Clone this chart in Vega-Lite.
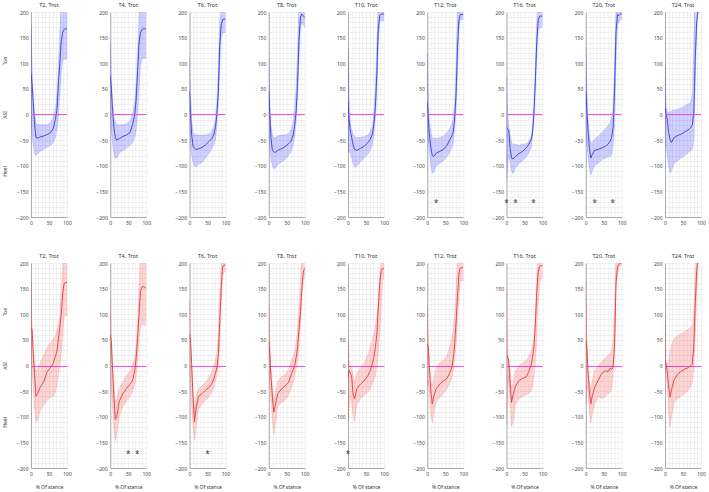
{"$schema":"https://vega.github.io/schema/vega-lite/v6.json","padding":{"left":2,"top":2,"right":2,"bottom":2},"datasets":{"stars":[{"g":"A","t":"T12","x":25,"y":-170},{"g":"A","t":"T16","x":0,"y":-170},{"g":"A","t":"T16","x":25,"y":-170},{"g":"A","t":"T16","x":75,"y":-170},{"g":"A","t":"T20","x":25,"y":-170},{"g":"A","t":"T20","x":75,"y":-170},{"g":"B","t":"T4","x":50,"y":-170},{"g":"B","t":"T4","x":75,"y":-170},{"g":"B","t":"T6","x":50,"y":-170},{"g":"B","t":"T10","x":0,"y":-170}],
"curves":[
{"g":"A","t":"T2","x":0,"m":80,"lo":-10,"hi":175},{"g":"A","t":"T2","x":3,"m":60,"lo":-40,"hi":100},{"g":"A","t":"T2","x":6,"m":25,"lo":-60,"hi":40},{"g":"A","t":"T2","x":10,"m":-20,"lo":-75,"hi":0},{"g":"A","t":"T2","x":14,"m":-45,"lo":-80,"hi":-18},{"g":"A","t":"T2","x":18,"m":-46,"lo":-77,"hi":-19},{"g":"A","t":"T2","x":25,"m":-44,"lo":-72,"hi":-20},{"g":"A","t":"T2","x":35,"m":-42,"lo":-68,"hi":-20},{"g":"A","t":"T2","x":45,"m":-39,"lo":-64,"hi":-20},{"g":"A","t":"T2","x":55,"m":-35,"lo":-60,"hi":-15},{"g":"A","t":"T2","x":62,"m":-27,"lo":-55,"hi":-5},{"g":"A","t":"T2","x":68,"m":-8,"lo":-45,"hi":12},{"g":"A","t":"T2","x":72,"m":8,"lo":-30,"hi":40},{"g":"A","t":"T2","x":76,"m":58,"lo":-5,"hi":95},{"g":"A","t":"T2","x":80,"m":100,"lo":40,"hi":165},{"g":"A","t":"T2","x":84,"m":143,"lo":80,"hi":215},{"g":"A","t":"T2","x":88,"m":160,"lo":105,"hi":240},{"g":"A","t":"T2","x":92,"m":166,"lo":108,"hi":240},{"g":"A","t":"T2","x":96,"m":167,"lo":108,"hi":240},{"g":"A","t":"T2","x":100,"m":167,"lo":108,"hi":240},
{"g":"A","t":"T4","x":0,"m":75,"lo":0,"hi":140},{"g":"A","t":"T4","x":3,"m":50,"lo":-30,"hi":80},{"g":"A","t":"T4","x":6,"m":15,"lo":-55,"hi":30},{"g":"A","t":"T4","x":10,"m":-25,"lo":-75,"hi":-5},{"g":"A","t":"T4","x":14,"m":-45,"lo":-85,"hi":-15},{"g":"A","t":"T4","x":18,"m":-50,"lo":-85,"hi":-20},{"g":"A","t":"T4","x":25,"m":-47,"lo":-75,"hi":-20},{"g":"A","t":"T4","x":35,"m":-43,"lo":-70,"hi":-20},{"g":"A","t":"T4","x":45,"m":-40,"lo":-66,"hi":-18},{"g":"A","t":"T4","x":55,"m":-35,"lo":-60,"hi":-12},{"g":"A","t":"T4","x":62,"m":-20,"lo":-55,"hi":0},{"g":"A","t":"T4","x":68,"m":0,"lo":-45,"hi":25},{"g":"A","t":"T4","x":72,"m":30,"lo":-30,"hi":60},{"g":"A","t":"T4","x":76,"m":85,"lo":0,"hi":120},{"g":"A","t":"T4","x":80,"m":140,"lo":50,"hi":200},{"g":"A","t":"T4","x":84,"m":160,"lo":95,"hi":250},{"g":"A","t":"T4","x":88,"m":166,"lo":110,"hi":250},{"g":"A","t":"T4","x":92,"m":167,"lo":110,"hi":250},{"g":"A","t":"T4","x":96,"m":167,"lo":110,"hi":250},{"g":"A","t":"T4","x":100,"m":167,"lo":110,"hi":250},
{"g":"A","t":"T6","x":0,"m":45,"lo":-20,"hi":110},{"g":"A","t":"T6","x":3,"m":0,"lo":-55,"hi":40},{"g":"A","t":"T6","x":6,"m":-40,"lo":-80,"hi":-10},{"g":"A","t":"T6","x":10,"m":-62,"lo":-95,"hi":-35},{"g":"A","t":"T6","x":14,"m":-66,"lo":-100,"hi":-38},{"g":"A","t":"T6","x":18,"m":-68,"lo":-102,"hi":-40},{"g":"A","t":"T6","x":25,"m":-67,"lo":-97,"hi":-40},{"g":"A","t":"T6","x":35,"m":-64,"lo":-93,"hi":-40},{"g":"A","t":"T6","x":45,"m":-59,"lo":-85,"hi":-40},{"g":"A","t":"T6","x":55,"m":-52,"lo":-75,"hi":-38},{"g":"A","t":"T6","x":62,"m":-47,"lo":-67,"hi":-33},{"g":"A","t":"T6","x":68,"m":-38,"lo":-58,"hi":-22},{"g":"A","t":"T6","x":72,"m":-26,"lo":-50,"hi":-8},{"g":"A","t":"T6","x":76,"m":0,"lo":-25,"hi":25},{"g":"A","t":"T6","x":80,"m":45,"lo":20,"hi":90},{"g":"A","t":"T6","x":84,"m":135,"lo":90,"hi":180},{"g":"A","t":"T6","x":88,"m":175,"lo":150,"hi":215},{"g":"A","t":"T6","x":92,"m":185,"lo":160,"hi":230},{"g":"A","t":"T6","x":96,"m":186,"lo":160,"hi":230},{"g":"A","t":"T6","x":100,"m":186,"lo":160,"hi":230},
{"g":"A","t":"T8","x":0,"m":45,"lo":-20,"hi":110},{"g":"A","t":"T8","x":3,"m":0,"lo":-60,"hi":30},{"g":"A","t":"T8","x":6,"m":-45,"lo":-90,"hi":-20},{"g":"A","t":"T8","x":10,"m":-70,"lo":-100,"hi":-40},{"g":"A","t":"T8","x":14,"m":-73,"lo":-105,"hi":-45},{"g":"A","t":"T8","x":18,"m":-74,"lo":-105,"hi":-45},{"g":"A","t":"T8","x":25,"m":-70,"lo":-98,"hi":-42},{"g":"A","t":"T8","x":35,"m":-67,"lo":-93,"hi":-40},{"g":"A","t":"T8","x":45,"m":-63,"lo":-88,"hi":-40},{"g":"A","t":"T8","x":55,"m":-57,"lo":-80,"hi":-37},{"g":"A","t":"T8","x":62,"m":-52,"lo":-72,"hi":-30},{"g":"A","t":"T8","x":68,"m":-40,"lo":-60,"hi":-15},{"g":"A","t":"T8","x":72,"m":-20,"lo":-42,"hi":10},{"g":"A","t":"T8","x":76,"m":5,"lo":-15,"hi":50},{"g":"A","t":"T8","x":80,"m":60,"lo":40,"hi":130},{"g":"A","t":"T8","x":84,"m":145,"lo":110,"hi":210},{"g":"A","t":"T8","x":88,"m":190,"lo":170,"hi":230},{"g":"A","t":"T8","x":92,"m":196,"lo":180,"hi":230},{"g":"A","t":"T8","x":96,"m":193,"lo":175,"hi":230},{"g":"A","t":"T8","x":100,"m":189,"lo":170,"hi":230},
{"g":"A","t":"T10","x":0,"m":25,"lo":-75,"hi":125},{"g":"A","t":"T10","x":3,"m":-10,"lo":-70,"hi":40},{"g":"A","t":"T10","x":6,"m":-30,"lo":-75,"hi":-10},{"g":"A","t":"T10","x":10,"m":-45,"lo":-85,"hi":-30},{"g":"A","t":"T10","x":14,"m":-58,"lo":-95,"hi":-38},{"g":"A","t":"T10","x":18,"m":-68,"lo":-103,"hi":-43},{"g":"A","t":"T10","x":25,"m":-70,"lo":-100,"hi":-45},{"g":"A","t":"T10","x":35,"m":-66,"lo":-92,"hi":-45},{"g":"A","t":"T10","x":45,"m":-62,"lo":-85,"hi":-43},{"g":"A","t":"T10","x":55,"m":-55,"lo":-78,"hi":-40},{"g":"A","t":"T10","x":62,"m":-48,"lo":-70,"hi":-33},{"g":"A","t":"T10","x":68,"m":-38,"lo":-58,"hi":-20},{"g":"A","t":"T10","x":72,"m":-18,"lo":-40,"hi":5},{"g":"A","t":"T10","x":76,"m":15,"lo":-10,"hi":50},{"g":"A","t":"T10","x":80,"m":80,"lo":40,"hi":140},{"g":"A","t":"T10","x":84,"m":165,"lo":130,"hi":210},{"g":"A","t":"T10","x":88,"m":193,"lo":180,"hi":230},{"g":"A","t":"T10","x":92,"m":196,"lo":183,"hi":230},{"g":"A","t":"T10","x":96,"m":196,"lo":183,"hi":230},{"g":"A","t":"T10","x":100,"m":196,"lo":183,"hi":230},
{"g":"A","t":"T12","x":0,"m":25,"lo":-40,"hi":120},{"g":"A","t":"T12","x":3,"m":-10,"lo":-55,"hi":40},{"g":"A","t":"T12","x":6,"m":-40,"lo":-75,"hi":-10},{"g":"A","t":"T12","x":10,"m":-65,"lo":-100,"hi":-35},{"g":"A","t":"T12","x":14,"m":-80,"lo":-115,"hi":-45},{"g":"A","t":"T12","x":18,"m":-82,"lo":-112,"hi":-47},{"g":"A","t":"T12","x":25,"m":-75,"lo":-100,"hi":-47},{"g":"A","t":"T12","x":35,"m":-72,"lo":-95,"hi":-45},{"g":"A","t":"T12","x":45,"m":-68,"lo":-90,"hi":-42},{"g":"A","t":"T12","x":55,"m":-60,"lo":-82,"hi":-35},{"g":"A","t":"T12","x":62,"m":-50,"lo":-75,"hi":-28},{"g":"A","t":"T12","x":68,"m":-42,"lo":-65,"hi":-18},{"g":"A","t":"T12","x":72,"m":-35,"lo":-55,"hi":-8},{"g":"A","t":"T12","x":76,"m":-10,"lo":-30,"hi":20},{"g":"A","t":"T12","x":80,"m":40,"lo":10,"hi":100},{"g":"A","t":"T12","x":84,"m":130,"lo":80,"hi":200},{"g":"A","t":"T12","x":88,"m":185,"lo":170,"hi":230},{"g":"A","t":"T12","x":92,"m":195,"lo":185,"hi":230},{"g":"A","t":"T12","x":96,"m":195,"lo":185,"hi":230},{"g":"A","t":"T12","x":100,"m":195,"lo":185,"hi":230},
{"g":"A","t":"T16","x":0,"m":-25,"lo":-125,"hi":75},{"g":"A","t":"T16","x":3,"m":-28,"lo":-100,"hi":0},{"g":"A","t":"T16","x":6,"m":-30,"lo":-80,"hi":-20},{"g":"A","t":"T16","x":10,"m":-65,"lo":-90,"hi":-40},{"g":"A","t":"T16","x":14,"m":-85,"lo":-110,"hi":-55},{"g":"A","t":"T16","x":18,"m":-87,"lo":-115,"hi":-58},{"g":"A","t":"T16","x":25,"m":-82,"lo":-105,"hi":-58},{"g":"A","t":"T16","x":35,"m":-76,"lo":-95,"hi":-60},{"g":"A","t":"T16","x":45,"m":-72,"lo":-90,"hi":-58},{"g":"A","t":"T16","x":55,"m":-65,"lo":-83,"hi":-57},{"g":"A","t":"T16","x":62,"m":-58,"lo":-75,"hi":-52},{"g":"A","t":"T16","x":68,"m":-50,"lo":-65,"hi":-45},{"g":"A","t":"T16","x":72,"m":-38,"lo":-45,"hi":-25},{"g":"A","t":"T16","x":76,"m":0,"lo":-15,"hi":15},{"g":"A","t":"T16","x":80,"m":65,"lo":40,"hi":90},{"g":"A","t":"T16","x":84,"m":140,"lo":110,"hi":180},{"g":"A","t":"T16","x":88,"m":185,"lo":165,"hi":215},{"g":"A","t":"T16","x":92,"m":192,"lo":170,"hi":230},{"g":"A","t":"T16","x":96,"m":192,"lo":170,"hi":230},{"g":"A","t":"T16","x":100,"m":192,"lo":170,"hi":230},
{"g":"A","t":"T20","x":0,"m":45,"lo":-40,"hi":130},{"g":"A","t":"T20","x":3,"m":10,"lo":-60,"hi":60},{"g":"A","t":"T20","x":6,"m":-30,"lo":-80,"hi":0},{"g":"A","t":"T20","x":10,"m":-65,"lo":-105,"hi":-40},{"g":"A","t":"T20","x":14,"m":-85,"lo":-118,"hi":-55},{"g":"A","t":"T20","x":18,"m":-78,"lo":-110,"hi":-55},{"g":"A","t":"T20","x":25,"m":-70,"lo":-100,"hi":-48},{"g":"A","t":"T20","x":35,"m":-68,"lo":-95,"hi":-42},{"g":"A","t":"T20","x":45,"m":-65,"lo":-88,"hi":-35},{"g":"A","t":"T20","x":55,"m":-62,"lo":-85,"hi":-28},{"g":"A","t":"T20","x":62,"m":-58,"lo":-83,"hi":-22},{"g":"A","t":"T20","x":68,"m":-52,"lo":-82,"hi":-15},{"g":"A","t":"T20","x":72,"m":-45,"lo":-78,"hi":-5},{"g":"A","t":"T20","x":76,"m":-25,"lo":-60,"hi":10},{"g":"A","t":"T20","x":80,"m":50,"lo":-20,"hi":100},{"g":"A","t":"T20","x":84,"m":160,"lo":100,"hi":200},{"g":"A","t":"T20","x":88,"m":195,"lo":175,"hi":220},{"g":"A","t":"T20","x":92,"m":193,"lo":180,"hi":220},{"g":"A","t":"T20","x":96,"m":196,"lo":185,"hi":220},{"g":"A","t":"T20","x":100,"m":197,"lo":185,"hi":220},
{"g":"A","t":"T24","x":0,"m":13,"lo":-20,"hi":100},{"g":"A","t":"T24","x":3,"m":2,"lo":-60,"hi":20},{"g":"A","t":"T24","x":6,"m":-9,"lo":-80,"hi":5},{"g":"A","t":"T24","x":10,"m":-35,"lo":-100,"hi":5},{"g":"A","t":"T24","x":14,"m":-48,"lo":-114,"hi":5},{"g":"A","t":"T24","x":18,"m":-55,"lo":-110,"hi":8},{"g":"A","t":"T24","x":25,"m":-45,"lo":-95,"hi":8},{"g":"A","t":"T24","x":35,"m":-41,"lo":-90,"hi":10},{"g":"A","t":"T24","x":45,"m":-38,"lo":-85,"hi":13},{"g":"A","t":"T24","x":55,"m":-34,"lo":-80,"hi":17},{"g":"A","t":"T24","x":62,"m":-31,"lo":-76,"hi":20},{"g":"A","t":"T24","x":68,"m":-28,"lo":-72,"hi":22},{"g":"A","t":"T24","x":72,"m":-25,"lo":-70,"hi":25},{"g":"A","t":"T24","x":76,"m":-20,"lo":-68,"hi":40},{"g":"A","t":"T24","x":80,"m":5,"lo":-50,"hi":150},{"g":"A","t":"T24","x":84,"m":110,"lo":60,"hi":250},{"g":"A","t":"T24","x":88,"m":180,"lo":170,"hi":250},{"g":"A","t":"T24","x":92,"m":205,"lo":200,"hi":250},{"g":"A","t":"T24","x":96,"m":210,"lo":200,"hi":250},{"g":"A","t":"T24","x":100,"m":215,"lo":200,"hi":250},
{"g":"B","t":"T2","x":0,"m":75,"lo":50,"hi":165},{"g":"B","t":"T2","x":3,"m":70,"lo":0,"hi":80},{"g":"B","t":"T2","x":6,"m":30,"lo":-40,"hi":30},{"g":"B","t":"T2","x":10,"m":-20,"lo":-85,"hi":0},{"g":"B","t":"T2","x":14,"m":-60,"lo":-110,"hi":-12},{"g":"B","t":"T2","x":18,"m":-55,"lo":-108,"hi":-8},{"g":"B","t":"T2","x":25,"m":-43,"lo":-90,"hi":5},{"g":"B","t":"T2","x":35,"m":-32,"lo":-78,"hi":20},{"g":"B","t":"T2","x":45,"m":-12,"lo":-68,"hi":35},{"g":"B","t":"T2","x":55,"m":-3,"lo":-62,"hi":45},{"g":"B","t":"T2","x":62,"m":5,"lo":-60,"hi":52},{"g":"B","t":"T2","x":68,"m":18,"lo":-52,"hi":58},{"g":"B","t":"T2","x":72,"m":28,"lo":-38,"hi":68},{"g":"B","t":"T2","x":76,"m":50,"lo":-20,"hi":80},{"g":"B","t":"T2","x":80,"m":75,"lo":0,"hi":95},{"g":"B","t":"T2","x":84,"m":100,"lo":25,"hi":140},{"g":"B","t":"T2","x":88,"m":140,"lo":60,"hi":200},{"g":"B","t":"T2","x":92,"m":160,"lo":95,"hi":240},{"g":"B","t":"T2","x":96,"m":162,"lo":97,"hi":240},{"g":"B","t":"T2","x":100,"m":162,"lo":97,"hi":240},
{"g":"B","t":"T4","x":0,"m":60,"lo":-10,"hi":130},{"g":"B","t":"T4","x":3,"m":45,"lo":-40,"hi":60},{"g":"B","t":"T4","x":6,"m":0,"lo":-80,"hi":0},{"g":"B","t":"T4","x":10,"m":-60,"lo":-120,"hi":-40},{"g":"B","t":"T4","x":14,"m":-105,"lo":-147,"hi":-72},{"g":"B","t":"T4","x":18,"m":-100,"lo":-135,"hi":-65},{"g":"B","t":"T4","x":25,"m":-70,"lo":-100,"hi":-45},{"g":"B","t":"T4","x":35,"m":-55,"lo":-80,"hi":-32},{"g":"B","t":"T4","x":45,"m":-45,"lo":-70,"hi":-20},{"g":"B","t":"T4","x":55,"m":-36,"lo":-60,"hi":-10},{"g":"B","t":"T4","x":62,"m":-30,"lo":-50,"hi":0},{"g":"B","t":"T4","x":68,"m":-10,"lo":-38,"hi":15},{"g":"B","t":"T4","x":72,"m":15,"lo":-20,"hi":40},{"g":"B","t":"T4","x":76,"m":55,"lo":10,"hi":90},{"g":"B","t":"T4","x":80,"m":100,"lo":50,"hi":160},{"g":"B","t":"T4","x":84,"m":145,"lo":78,"hi":210},{"g":"B","t":"T4","x":88,"m":153,"lo":80,"hi":240},{"g":"B","t":"T4","x":92,"m":154,"lo":80,"hi":240},{"g":"B","t":"T4","x":96,"m":153,"lo":80,"hi":240},{"g":"B","t":"T4","x":100,"m":150,"lo":78,"hi":240},
{"g":"B","t":"T6","x":0,"m":61,"lo":-10,"hi":125},{"g":"B","t":"T6","x":3,"m":45,"lo":-40,"hi":60},{"g":"B","t":"T6","x":6,"m":3,"lo":-80,"hi":0},{"g":"B","t":"T6","x":10,"m":-65,"lo":-120,"hi":-50},{"g":"B","t":"T6","x":14,"m":-110,"lo":-146,"hi":-85},{"g":"B","t":"T6","x":18,"m":-85,"lo":-120,"hi":-60},{"g":"B","t":"T6","x":25,"m":-60,"lo":-85,"hi":-45},{"g":"B","t":"T6","x":35,"m":-55,"lo":-75,"hi":-40},{"g":"B","t":"T6","x":45,"m":-48,"lo":-68,"hi":-32},{"g":"B","t":"T6","x":55,"m":-42,"lo":-60,"hi":-22},{"g":"B","t":"T6","x":62,"m":-35,"lo":-52,"hi":-12},{"g":"B","t":"T6","x":68,"m":-25,"lo":-42,"hi":0},{"g":"B","t":"T6","x":72,"m":-15,"lo":-30,"hi":10},{"g":"B","t":"T6","x":76,"m":-5,"lo":-18,"hi":25},{"g":"B","t":"T6","x":80,"m":20,"lo":0,"hi":60},{"g":"B","t":"T6","x":84,"m":85,"lo":50,"hi":130},{"g":"B","t":"T6","x":88,"m":150,"lo":120,"hi":200},{"g":"B","t":"T6","x":92,"m":192,"lo":175,"hi":230},{"g":"B","t":"T6","x":96,"m":196,"lo":183,"hi":230},{"g":"B","t":"T6","x":100,"m":196,"lo":183,"hi":230},
{"g":"B","t":"T8","x":0,"m":46,"lo":-20,"hi":120},{"g":"B","t":"T8","x":3,"m":20,"lo":-40,"hi":50},{"g":"B","t":"T8","x":6,"m":-20,"lo":-70,"hi":0},{"g":"B","t":"T8","x":10,"m":-60,"lo":-105,"hi":-40},{"g":"B","t":"T8","x":14,"m":-91,"lo":-135,"hi":-70},{"g":"B","t":"T8","x":18,"m":-78,"lo":-115,"hi":-55},{"g":"B","t":"T8","x":25,"m":-55,"lo":-80,"hi":-30},{"g":"B","t":"T8","x":35,"m":-46,"lo":-72,"hi":-22},{"g":"B","t":"T8","x":45,"m":-40,"lo":-68,"hi":-18},{"g":"B","t":"T8","x":55,"m":-33,"lo":-58,"hi":-8},{"g":"B","t":"T8","x":62,"m":-18,"lo":-45,"hi":8},{"g":"B","t":"T8","x":68,"m":-8,"lo":-32,"hi":18},{"g":"B","t":"T8","x":72,"m":0,"lo":-20,"hi":28},{"g":"B","t":"T8","x":76,"m":15,"lo":-8,"hi":45},{"g":"B","t":"T8","x":80,"m":36,"lo":10,"hi":70},{"g":"B","t":"T8","x":84,"m":70,"lo":40,"hi":110},{"g":"B","t":"T8","x":88,"m":105,"lo":80,"hi":160},{"g":"B","t":"T8","x":92,"m":150,"lo":130,"hi":210},{"g":"B","t":"T8","x":96,"m":182,"lo":168,"hi":230},{"g":"B","t":"T8","x":100,"m":190,"lo":170,"hi":230},
{"g":"B","t":"T10","x":0,"m":-23,"lo":-107,"hi":50},{"g":"B","t":"T10","x":3,"m":-10,"lo":-80,"hi":10},{"g":"B","t":"T10","x":6,"m":-15,"lo":-60,"hi":0},{"g":"B","t":"T10","x":10,"m":-20,"lo":-70,"hi":-5},{"g":"B","t":"T10","x":14,"m":-55,"lo":-95,"hi":-20},{"g":"B","t":"T10","x":18,"m":-65,"lo":-110,"hi":-35},{"g":"B","t":"T10","x":25,"m":-45,"lo":-75,"hi":-15},{"g":"B","t":"T10","x":35,"m":-36,"lo":-65,"hi":-5},{"g":"B","t":"T10","x":45,"m":-30,"lo":-58,"hi":5},{"g":"B","t":"T10","x":55,"m":-20,"lo":-52,"hi":20},{"g":"B","t":"T10","x":62,"m":-10,"lo":-45,"hi":36},{"g":"B","t":"T10","x":68,"m":5,"lo":-35,"hi":50},{"g":"B","t":"T10","x":72,"m":16,"lo":-28,"hi":62},{"g":"B","t":"T10","x":76,"m":35,"lo":-20,"hi":78},{"g":"B","t":"T10","x":80,"m":60,"lo":0,"hi":95},{"g":"B","t":"T10","x":84,"m":110,"lo":20,"hi":120},{"g":"B","t":"T10","x":88,"m":160,"lo":60,"hi":170},{"g":"B","t":"T10","x":92,"m":183,"lo":110,"hi":210},{"g":"B","t":"T10","x":96,"m":189,"lo":165,"hi":230},{"g":"B","t":"T10","x":100,"m":190,"lo":170,"hi":230},
{"g":"B","t":"T12","x":0,"m":42,"lo":-40,"hi":115},{"g":"B","t":"T12","x":3,"m":36,"lo":-30,"hi":50},{"g":"B","t":"T12","x":6,"m":-5,"lo":-55,"hi":0},{"g":"B","t":"T12","x":10,"m":-50,"lo":-95,"hi":-30},{"g":"B","t":"T12","x":14,"m":-75,"lo":-112,"hi":-40},{"g":"B","t":"T12","x":18,"m":-60,"lo":-95,"hi":-25},{"g":"B","t":"T12","x":25,"m":-45,"lo":-70,"hi":-5},{"g":"B","t":"T12","x":35,"m":-36,"lo":-62,"hi":5},{"g":"B","t":"T12","x":45,"m":-30,"lo":-55,"hi":10},{"g":"B","t":"T12","x":55,"m":-25,"lo":-45,"hi":20},{"g":"B","t":"T12","x":62,"m":-15,"lo":-35,"hi":35},{"g":"B","t":"T12","x":68,"m":-5,"lo":-25,"hi":50},{"g":"B","t":"T12","x":72,"m":12,"lo":-10,"hi":70},{"g":"B","t":"T12","x":76,"m":40,"lo":10,"hi":100},{"g":"B","t":"T12","x":80,"m":85,"lo":40,"hi":150},{"g":"B","t":"T12","x":84,"m":134,"lo":80,"hi":200},{"g":"B","t":"T12","x":88,"m":180,"lo":140,"hi":230},{"g":"B","t":"T12","x":92,"m":190,"lo":165,"hi":230},{"g":"B","t":"T12","x":96,"m":191,"lo":165,"hi":230},{"g":"B","t":"T12","x":100,"m":191,"lo":165,"hi":230},
{"g":"B","t":"T16","x":0,"m":20,"lo":-115,"hi":150},{"g":"B","t":"T16","x":3,"m":17,"lo":-60,"hi":40},{"g":"B","t":"T16","x":6,"m":10,"lo":-20,"hi":10},{"g":"B","t":"T16","x":10,"m":-35,"lo":-70,"hi":-10},{"g":"B","t":"T16","x":14,"m":-72,"lo":-118,"hi":-45},{"g":"B","t":"T16","x":18,"m":-58,"lo":-112,"hi":-35},{"g":"B","t":"T16","x":25,"m":-40,"lo":-75,"hi":-10},{"g":"B","t":"T16","x":35,"m":-29,"lo":-65,"hi":0},{"g":"B","t":"T16","x":45,"m":-25,"lo":-60,"hi":5},{"g":"B","t":"T16","x":55,"m":-22,"lo":-56,"hi":10},{"g":"B","t":"T16","x":62,"m":-12,"lo":-55,"hi":18},{"g":"B","t":"T16","x":68,"m":0,"lo":-50,"hi":28},{"g":"B","t":"T16","x":72,"m":15,"lo":-40,"hi":35},{"g":"B","t":"T16","x":76,"m":35,"lo":-25,"hi":50},{"g":"B","t":"T16","x":80,"m":80,"lo":10,"hi":100},{"g":"B","t":"T16","x":84,"m":140,"lo":55,"hi":170},{"g":"B","t":"T16","x":88,"m":183,"lo":120,"hi":210},{"g":"B","t":"T16","x":92,"m":193,"lo":160,"hi":230},{"g":"B","t":"T16","x":96,"m":195,"lo":170,"hi":230},{"g":"B","t":"T16","x":100,"m":195,"lo":170,"hi":230},
{"g":"B","t":"T20","x":0,"m":48,"lo":-75,"hi":165},{"g":"B","t":"T20","x":3,"m":36,"lo":-40,"hi":60},{"g":"B","t":"T20","x":6,"m":-10,"lo":-50,"hi":0},{"g":"B","t":"T20","x":10,"m":-50,"lo":-90,"hi":-35},{"g":"B","t":"T20","x":14,"m":-75,"lo":-111,"hi":-50},{"g":"B","t":"T20","x":18,"m":-60,"lo":-95,"hi":-30},{"g":"B","t":"T20","x":25,"m":-42,"lo":-75,"hi":-10},{"g":"B","t":"T20","x":35,"m":-28,"lo":-60,"hi":0},{"g":"B","t":"T20","x":45,"m":-15,"lo":-65,"hi":8},{"g":"B","t":"T20","x":55,"m":-10,"lo":-60,"hi":15},{"g":"B","t":"T20","x":62,"m":-12,"lo":-55,"hi":20},{"g":"B","t":"T20","x":68,"m":-5,"lo":-52,"hi":25},{"g":"B","t":"T20","x":72,"m":-8,"lo":-45,"hi":30},{"g":"B","t":"T20","x":76,"m":-3,"lo":-15,"hi":50},{"g":"B","t":"T20","x":80,"m":40,"lo":20,"hi":120},{"g":"B","t":"T20","x":84,"m":160,"lo":150,"hi":210},{"g":"B","t":"T20","x":88,"m":193,"lo":180,"hi":230},{"g":"B","t":"T20","x":92,"m":197,"lo":190,"hi":230},{"g":"B","t":"T20","x":96,"m":200,"lo":195,"hi":230},{"g":"B","t":"T20","x":100,"m":200,"lo":195,"hi":230},
{"g":"B","t":"T24","x":0,"m":8,"lo":-5,"hi":101},{"g":"B","t":"T24","x":3,"m":3,"lo":-10,"hi":10},{"g":"B","t":"T24","x":6,"m":-10,"lo":-40,"hi":5},{"g":"B","t":"T24","x":10,"m":-40,"lo":-90,"hi":5},{"g":"B","t":"T24","x":14,"m":-62,"lo":-120,"hi":25},{"g":"B","t":"T24","x":18,"m":-48,"lo":-100,"hi":40},{"g":"B","t":"T24","x":25,"m":-28,"lo":-72,"hi":52},{"g":"B","t":"T24","x":35,"m":-17,"lo":-65,"hi":58},{"g":"B","t":"T24","x":45,"m":-11,"lo":-60,"hi":62},{"g":"B","t":"T24","x":55,"m":-7,"lo":-55,"hi":66},{"g":"B","t":"T24","x":62,"m":-5,"lo":-50,"hi":70},{"g":"B","t":"T24","x":68,"m":-2,"lo":-45,"hi":73},{"g":"B","t":"T24","x":72,"m":0,"lo":-40,"hi":75},{"g":"B","t":"T24","x":76,"m":3,"lo":-32,"hi":78},{"g":"B","t":"T24","x":80,"m":40,"lo":0,"hi":110},{"g":"B","t":"T24","x":84,"m":120,"lo":60,"hi":180},{"g":"B","t":"T24","x":88,"m":185,"lo":140,"hi":230},{"g":"B","t":"T24","x":92,"m":210,"lo":200,"hi":250},{"g":"B","t":"T24","x":96,"m":220,"lo":220,"hi":250},{"g":"B","t":"T24","x":100,"m":225,"lo":225,"hi":250}
]},
"vconcat":[
{"hconcat":[
{"title":"T2, Trot","width":36,"height":205,"data":{"name":"curves"},"encoding":{"x":{"field":"x","type":"quantitative","scale":{"domain":[0,100]},"title":null,"axis":{"values":[0,10,20,30,40,50,60,70,80,90,100],"labelExpr":"datum.value%50==0?datum.label:''"}}},"resolve":{"axis":{"y":"independent"}},"layer":[
{"transform":[{"filter":"datum.g=='A'&&datum.t=='T2'"}],"mark":{"type":"area","color":"#0000ff","fillOpacity":0.18,"stroke":"#0000ff","strokeOpacity":0.25,"strokeWidth":0.5,"clip":true},"encoding":{"y":{"field":"lo","type":"quantitative","scale":{"domain":[-200,200]},"title":null,"axis":{"orient":"left","values":[-200,-190,-180,-170,-160,-150,-140,-130,-120,-110,-100,-90,-80,-70,-60,-50,-40,-30,-20,-10,0,10,20,30,40,50,60,70,80,90,100,110,120,130,140,150,160,170,180,190,200],"labelExpr":"datum.value%50==0?datum.label:''"}},"y2":{"field":"hi"}}},
{"transform":[{"filter":"datum.g=='A'&&datum.t=='T2'"}],"mark":{"type":"line","color":"#3b3bd6","strokeWidth":0.9,"clip":true},"encoding":{"y":{"field":"m","type":"quantitative","scale":{"domain":[-200,200]},"title":null,"axis":null}}},
{"transform":[{"filter":"datum.g=='A'&&datum.t=='T2'&&datum.x==0"}],"mark":{"type":"rule","stroke":"#f050f0","strokeWidth":1},"encoding":{"x2":{"datum":100},"y":{"datum":0,"type":"quantitative","scale":{"domain":[-200,200]},"title":null,"axis":{"orient":"left","values":[105,0,-110],"labelExpr":"datum.value>50?'Toe':datum.value<-50?'Heel':'ASI'","labelAngle":270,"labelAlign":"center","labelBaseline":"middle","labelPadding":27,"domain":false,"grid":false,"labelColor":"#333"}}}},
{"data":{"name":"stars"},"transform":[{"filter":"datum.g=='A'&&datum.t=='T2'"}],"mark":{"type":"text","text":"*","fontSize":8,"color":"#333","baseline":"middle","dy":2},"encoding":{"y":{"field":"y","type":"quantitative","scale":{"domain":[-200,200]},"title":null,"axis":null}}}]},
{"title":"T4, Trot","width":36,"height":205,"data":{"name":"curves"},"encoding":{"x":{"field":"x","type":"quantitative","scale":{"domain":[0,100]},"title":null,"axis":{"values":[0,10,20,30,40,50,60,70,80,90,100],"labelExpr":"datum.value%50==0?datum.label:''"}}},"resolve":{"axis":{"y":"independent"}},"layer":[
{"transform":[{"filter":"datum.g=='A'&&datum.t=='T4'"}],"mark":{"type":"area","color":"#0000ff","fillOpacity":0.18,"stroke":"#0000ff","strokeOpacity":0.25,"strokeWidth":0.5,"clip":true},"encoding":{"y":{"field":"lo","type":"quantitative","scale":{"domain":[-200,200]},"title":null,"axis":{"orient":"left","values":[-200,-190,-180,-170,-160,-150,-140,-130,-120,-110,-100,-90,-80,-70,-60,-50,-40,-30,-20,-10,0,10,20,30,40,50,60,70,80,90,100,110,120,130,140,150,160,170,180,190,200],"labelExpr":"datum.value%50==0?datum.label:''"}},"y2":{"field":"hi"}}},
{"transform":[{"filter":"datum.g=='A'&&datum.t=='T4'"}],"mark":{"type":"line","color":"#3b3bd6","strokeWidth":0.9,"clip":true},"encoding":{"y":{"field":"m","type":"quantitative","scale":{"domain":[-200,200]},"title":null,"axis":null}}},
{"transform":[{"filter":"datum.g=='A'&&datum.t=='T4'&&datum.x==0"}],"mark":{"type":"rule","stroke":"#f050f0","strokeWidth":1},"encoding":{"x2":{"datum":100},"y":{"datum":0,"type":"quantitative","scale":{"domain":[-200,200]},"title":null,"axis":null}}},
{"data":{"name":"stars"},"transform":[{"filter":"datum.g=='A'&&datum.t=='T4'"}],"mark":{"type":"text","text":"*","fontSize":8,"color":"#333","baseline":"middle","dy":2},"encoding":{"y":{"field":"y","type":"quantitative","scale":{"domain":[-200,200]},"title":null,"axis":null}}}]},
{"title":"T6, Trot","width":36,"height":205,"data":{"name":"curves"},"encoding":{"x":{"field":"x","type":"quantitative","scale":{"domain":[0,100]},"title":null,"axis":{"values":[0,10,20,30,40,50,60,70,80,90,100],"labelExpr":"datum.value%50==0?datum.label:''"}}},"resolve":{"axis":{"y":"independent"}},"layer":[
{"transform":[{"filter":"datum.g=='A'&&datum.t=='T6'"}],"mark":{"type":"area","color":"#0000ff","fillOpacity":0.18,"stroke":"#0000ff","strokeOpacity":0.25,"strokeWidth":0.5,"clip":true},"encoding":{"y":{"field":"lo","type":"quantitative","scale":{"domain":[-200,200]},"title":null,"axis":{"orient":"left","values":[-200,-190,-180,-170,-160,-150,-140,-130,-120,-110,-100,-90,-80,-70,-60,-50,-40,-30,-20,-10,0,10,20,30,40,50,60,70,80,90,100,110,120,130,140,150,160,170,180,190,200],"labelExpr":"datum.value%50==0?datum.label:''"}},"y2":{"field":"hi"}}},
{"transform":[{"filter":"datum.g=='A'&&datum.t=='T6'"}],"mark":{"type":"line","color":"#3b3bd6","strokeWidth":0.9,"clip":true},"encoding":{"y":{"field":"m","type":"quantitative","scale":{"domain":[-200,200]},"title":null,"axis":null}}},
{"transform":[{"filter":"datum.g=='A'&&datum.t=='T6'&&datum.x==0"}],"mark":{"type":"rule","stroke":"#f050f0","strokeWidth":1},"encoding":{"x2":{"datum":100},"y":{"datum":0,"type":"quantitative","scale":{"domain":[-200,200]},"title":null,"axis":null}}},
{"data":{"name":"stars"},"transform":[{"filter":"datum.g=='A'&&datum.t=='T6'"}],"mark":{"type":"text","text":"*","fontSize":8,"color":"#333","baseline":"middle","dy":2},"encoding":{"y":{"field":"y","type":"quantitative","scale":{"domain":[-200,200]},"title":null,"axis":null}}}]},
{"title":"T8, Trot","width":36,"height":205,"data":{"name":"curves"},"encoding":{"x":{"field":"x","type":"quantitative","scale":{"domain":[0,100]},"title":null,"axis":{"values":[0,10,20,30,40,50,60,70,80,90,100],"labelExpr":"datum.value%50==0?datum.label:''"}}},"resolve":{"axis":{"y":"independent"}},"layer":[
{"transform":[{"filter":"datum.g=='A'&&datum.t=='T8'"}],"mark":{"type":"area","color":"#0000ff","fillOpacity":0.18,"stroke":"#0000ff","strokeOpacity":0.25,"strokeWidth":0.5,"clip":true},"encoding":{"y":{"field":"lo","type":"quantitative","scale":{"domain":[-200,200]},"title":null,"axis":{"orient":"left","values":[-200,-190,-180,-170,-160,-150,-140,-130,-120,-110,-100,-90,-80,-70,-60,-50,-40,-30,-20,-10,0,10,20,30,40,50,60,70,80,90,100,110,120,130,140,150,160,170,180,190,200],"labelExpr":"datum.value%50==0?datum.label:''"}},"y2":{"field":"hi"}}},
{"transform":[{"filter":"datum.g=='A'&&datum.t=='T8'"}],"mark":{"type":"line","color":"#3b3bd6","strokeWidth":0.9,"clip":true},"encoding":{"y":{"field":"m","type":"quantitative","scale":{"domain":[-200,200]},"title":null,"axis":null}}},
{"transform":[{"filter":"datum.g=='A'&&datum.t=='T8'&&datum.x==0"}],"mark":{"type":"rule","stroke":"#f050f0","strokeWidth":1},"encoding":{"x2":{"datum":100},"y":{"datum":0,"type":"quantitative","scale":{"domain":[-200,200]},"title":null,"axis":null}}},
{"data":{"name":"stars"},"transform":[{"filter":"datum.g=='A'&&datum.t=='T8'"}],"mark":{"type":"text","text":"*","fontSize":8,"color":"#333","baseline":"middle","dy":2},"encoding":{"y":{"field":"y","type":"quantitative","scale":{"domain":[-200,200]},"title":null,"axis":null}}}]},
{"title":"T10, Trot","width":36,"height":205,"data":{"name":"curves"},"encoding":{"x":{"field":"x","type":"quantitative","scale":{"domain":[0,100]},"title":null,"axis":{"values":[0,10,20,30,40,50,60,70,80,90,100],"labelExpr":"datum.value%50==0?datum.label:''"}}},"resolve":{"axis":{"y":"independent"}},"layer":[
{"transform":[{"filter":"datum.g=='A'&&datum.t=='T10'"}],"mark":{"type":"area","color":"#0000ff","fillOpacity":0.18,"stroke":"#0000ff","strokeOpacity":0.25,"strokeWidth":0.5,"clip":true},"encoding":{"y":{"field":"lo","type":"quantitative","scale":{"domain":[-200,200]},"title":null,"axis":{"orient":"left","values":[-200,-190,-180,-170,-160,-150,-140,-130,-120,-110,-100,-90,-80,-70,-60,-50,-40,-30,-20,-10,0,10,20,30,40,50,60,70,80,90,100,110,120,130,140,150,160,170,180,190,200],"labelExpr":"datum.value%50==0?datum.label:''"}},"y2":{"field":"hi"}}},
{"transform":[{"filter":"datum.g=='A'&&datum.t=='T10'"}],"mark":{"type":"line","color":"#3b3bd6","strokeWidth":0.9,"clip":true},"encoding":{"y":{"field":"m","type":"quantitative","scale":{"domain":[-200,200]},"title":null,"axis":null}}},
{"transform":[{"filter":"datum.g=='A'&&datum.t=='T10'&&datum.x==0"}],"mark":{"type":"rule","stroke":"#f050f0","strokeWidth":1},"encoding":{"x2":{"datum":100},"y":{"datum":0,"type":"quantitative","scale":{"domain":[-200,200]},"title":null,"axis":null}}},
{"data":{"name":"stars"},"transform":[{"filter":"datum.g=='A'&&datum.t=='T10'"}],"mark":{"type":"text","text":"*","fontSize":8,"color":"#333","baseline":"middle","dy":2},"encoding":{"y":{"field":"y","type":"quantitative","scale":{"domain":[-200,200]},"title":null,"axis":null}}}]},
{"title":"T12, Trot","width":36,"height":205,"data":{"name":"curves"},"encoding":{"x":{"field":"x","type":"quantitative","scale":{"domain":[0,100]},"title":null,"axis":{"values":[0,10,20,30,40,50,60,70,80,90,100],"labelExpr":"datum.value%50==0?datum.label:''"}}},"resolve":{"axis":{"y":"independent"}},"layer":[
{"transform":[{"filter":"datum.g=='A'&&datum.t=='T12'"}],"mark":{"type":"area","color":"#0000ff","fillOpacity":0.18,"stroke":"#0000ff","strokeOpacity":0.25,"strokeWidth":0.5,"clip":true},"encoding":{"y":{"field":"lo","type":"quantitative","scale":{"domain":[-200,200]},"title":null,"axis":{"orient":"left","values":[-200,-190,-180,-170,-160,-150,-140,-130,-120,-110,-100,-90,-80,-70,-60,-50,-40,-30,-20,-10,0,10,20,30,40,50,60,70,80,90,100,110,120,130,140,150,160,170,180,190,200],"labelExpr":"datum.value%50==0?datum.label:''"}},"y2":{"field":"hi"}}},
{"transform":[{"filter":"datum.g=='A'&&datum.t=='T12'"}],"mark":{"type":"line","color":"#3b3bd6","strokeWidth":0.9,"clip":true},"encoding":{"y":{"field":"m","type":"quantitative","scale":{"domain":[-200,200]},"title":null,"axis":null}}},
{"transform":[{"filter":"datum.g=='A'&&datum.t=='T12'&&datum.x==0"}],"mark":{"type":"rule","stroke":"#f050f0","strokeWidth":1},"encoding":{"x2":{"datum":100},"y":{"datum":0,"type":"quantitative","scale":{"domain":[-200,200]},"title":null,"axis":null}}},
{"data":{"name":"stars"},"transform":[{"filter":"datum.g=='A'&&datum.t=='T12'"}],"mark":{"type":"text","text":"*","fontSize":8,"color":"#333","baseline":"middle","dy":2},"encoding":{"y":{"field":"y","type":"quantitative","scale":{"domain":[-200,200]},"title":null,"axis":null}}}]},
{"title":"T16, Trot","width":36,"height":205,"data":{"name":"curves"},"encoding":{"x":{"field":"x","type":"quantitative","scale":{"domain":[0,100]},"title":null,"axis":{"values":[0,10,20,30,40,50,60,70,80,90,100],"labelExpr":"datum.value%50==0?datum.label:''"}}},"resolve":{"axis":{"y":"independent"}},"layer":[
{"transform":[{"filter":"datum.g=='A'&&datum.t=='T16'"}],"mark":{"type":"area","color":"#0000ff","fillOpacity":0.18,"stroke":"#0000ff","strokeOpacity":0.25,"strokeWidth":0.5,"clip":true},"encoding":{"y":{"field":"lo","type":"quantitative","scale":{"domain":[-200,200]},"title":null,"axis":{"orient":"left","values":[-200,-190,-180,-170,-160,-150,-140,-130,-120,-110,-100,-90,-80,-70,-60,-50,-40,-30,-20,-10,0,10,20,30,40,50,60,70,80,90,100,110,120,130,140,150,160,170,180,190,200],"labelExpr":"datum.value%50==0?datum.label:''"}},"y2":{"field":"hi"}}},
{"transform":[{"filter":"datum.g=='A'&&datum.t=='T16'"}],"mark":{"type":"line","color":"#3b3bd6","strokeWidth":0.9,"clip":true},"encoding":{"y":{"field":"m","type":"quantitative","scale":{"domain":[-200,200]},"title":null,"axis":null}}},
{"transform":[{"filter":"datum.g=='A'&&datum.t=='T16'&&datum.x==0"}],"mark":{"type":"rule","stroke":"#f050f0","strokeWidth":1},"encoding":{"x2":{"datum":100},"y":{"datum":0,"type":"quantitative","scale":{"domain":[-200,200]},"title":null,"axis":null}}},
{"data":{"name":"stars"},"transform":[{"filter":"datum.g=='A'&&datum.t=='T16'"}],"mark":{"type":"text","text":"*","fontSize":8,"color":"#333","baseline":"middle","dy":2},"encoding":{"y":{"field":"y","type":"quantitative","scale":{"domain":[-200,200]},"title":null,"axis":null}}}]},
{"title":"T20, Trot","width":36,"height":205,"data":{"name":"curves"},"encoding":{"x":{"field":"x","type":"quantitative","scale":{"domain":[0,100]},"title":null,"axis":{"values":[0,10,20,30,40,50,60,70,80,90,100],"labelExpr":"datum.value%50==0?datum.label:''"}}},"resolve":{"axis":{"y":"independent"}},"layer":[
{"transform":[{"filter":"datum.g=='A'&&datum.t=='T20'"}],"mark":{"type":"area","color":"#0000ff","fillOpacity":0.18,"stroke":"#0000ff","strokeOpacity":0.25,"strokeWidth":0.5,"clip":true},"encoding":{"y":{"field":"lo","type":"quantitative","scale":{"domain":[-200,200]},"title":null,"axis":{"orient":"left","values":[-200,-190,-180,-170,-160,-150,-140,-130,-120,-110,-100,-90,-80,-70,-60,-50,-40,-30,-20,-10,0,10,20,30,40,50,60,70,80,90,100,110,120,130,140,150,160,170,180,190,200],"labelExpr":"datum.value%50==0?datum.label:''"}},"y2":{"field":"hi"}}},
{"transform":[{"filter":"datum.g=='A'&&datum.t=='T20'"}],"mark":{"type":"line","color":"#3b3bd6","strokeWidth":0.9,"clip":true},"encoding":{"y":{"field":"m","type":"quantitative","scale":{"domain":[-200,200]},"title":null,"axis":null}}},
{"transform":[{"filter":"datum.g=='A'&&datum.t=='T20'&&datum.x==0"}],"mark":{"type":"rule","stroke":"#f050f0","strokeWidth":1},"encoding":{"x2":{"datum":100},"y":{"datum":0,"type":"quantitative","scale":{"domain":[-200,200]},"title":null,"axis":null}}},
{"data":{"name":"stars"},"transform":[{"filter":"datum.g=='A'&&datum.t=='T20'"}],"mark":{"type":"text","text":"*","fontSize":8,"color":"#333","baseline":"middle","dy":2},"encoding":{"y":{"field":"y","type":"quantitative","scale":{"domain":[-200,200]},"title":null,"axis":null}}}]},
{"title":"T24, Trot","width":36,"height":205,"data":{"name":"curves"},"encoding":{"x":{"field":"x","type":"quantitative","scale":{"domain":[0,100]},"title":null,"axis":{"values":[0,10,20,30,40,50,60,70,80,90,100],"labelExpr":"datum.value%50==0?datum.label:''"}}},"resolve":{"axis":{"y":"independent"}},"layer":[
{"transform":[{"filter":"datum.g=='A'&&datum.t=='T24'"}],"mark":{"type":"area","color":"#0000ff","fillOpacity":0.18,"stroke":"#0000ff","strokeOpacity":0.25,"strokeWidth":0.5,"clip":true},"encoding":{"y":{"field":"lo","type":"quantitative","scale":{"domain":[-200,200]},"title":null,"axis":{"orient":"left","values":[-200,-190,-180,-170,-160,-150,-140,-130,-120,-110,-100,-90,-80,-70,-60,-50,-40,-30,-20,-10,0,10,20,30,40,50,60,70,80,90,100,110,120,130,140,150,160,170,180,190,200],"labelExpr":"datum.value%50==0?datum.label:''"}},"y2":{"field":"hi"}}},
{"transform":[{"filter":"datum.g=='A'&&datum.t=='T24'"}],"mark":{"type":"line","color":"#3b3bd6","strokeWidth":0.9,"clip":true},"encoding":{"y":{"field":"m","type":"quantitative","scale":{"domain":[-200,200]},"title":null,"axis":null}}},
{"transform":[{"filter":"datum.g=='A'&&datum.t=='T24'&&datum.x==0"}],"mark":{"type":"rule","stroke":"#f050f0","strokeWidth":1},"encoding":{"x2":{"datum":100},"y":{"datum":0,"type":"quantitative","scale":{"domain":[-200,200]},"title":null,"axis":null}}},
{"data":{"name":"stars"},"transform":[{"filter":"datum.g=='A'&&datum.t=='T24'"}],"mark":{"type":"text","text":"*","fontSize":8,"color":"#333","baseline":"middle","dy":2},"encoding":{"y":{"field":"y","type":"quantitative","scale":{"domain":[-200,200]},"title":null,"axis":null}}}]}
],"spacing":43.25,"bounds":"flush"},
{"hconcat":[
{"title":"T2, Trot","width":36,"height":205,"data":{"name":"curves"},"encoding":{"x":{"field":"x","type":"quantitative","scale":{"domain":[0,100]},"title":"% Of stance","axis":{"values":[0,10,20,30,40,50,60,70,80,90,100],"labelExpr":"datum.value%50==0?datum.label:''"}}},"resolve":{"axis":{"y":"independent"}},"layer":[
{"transform":[{"filter":"datum.g=='B'&&datum.t=='T2'"}],"mark":{"type":"area","color":"#ff0000","fillOpacity":0.16,"stroke":"#ff0000","strokeOpacity":0.25,"strokeWidth":0.5,"clip":true},"encoding":{"y":{"field":"lo","type":"quantitative","scale":{"domain":[-200,200]},"title":null,"axis":{"orient":"left","values":[-200,-190,-180,-170,-160,-150,-140,-130,-120,-110,-100,-90,-80,-70,-60,-50,-40,-30,-20,-10,0,10,20,30,40,50,60,70,80,90,100,110,120,130,140,150,160,170,180,190,200],"labelExpr":"datum.value%50==0?datum.label:''","gridColor":{"condition":{"test":"datum.value===0","value":"#f050f0"},"value":"#e8e8e8"},"gridWidth":{"condition":{"test":"datum.value===0","value":1},"value":0.6}}},"y2":{"field":"hi"}}},
{"transform":[{"filter":"datum.g=='B'&&datum.t=='T2'"}],"mark":{"type":"line","color":"#e03c3c","strokeWidth":0.9,"clip":true},"encoding":{"y":{"field":"m","type":"quantitative","scale":{"domain":[-200,200]},"title":null,"axis":null}}},
{"transform":[{"filter":"datum.g=='B'&&datum.t=='T2'&&datum.x==0"}],"mark":{"type":"rule","stroke":"#f050f0","strokeWidth":1,"strokeOpacity":0},"encoding":{"x2":{"datum":100},"y":{"datum":0,"type":"quantitative","scale":{"domain":[-200,200]},"title":null,"axis":{"orient":"left","values":[105,0,-110],"labelExpr":"datum.value>50?'Toe':datum.value<-50?'Heel':'ASI'","labelAngle":270,"labelAlign":"center","labelBaseline":"middle","labelPadding":27,"domain":false,"grid":false,"labelColor":"#333"}}}},
{"data":{"name":"stars"},"transform":[{"filter":"datum.g=='B'&&datum.t=='T2'"}],"mark":{"type":"text","text":"*","fontSize":8,"color":"#333","baseline":"middle","dy":2},"encoding":{"y":{"field":"y","type":"quantitative","scale":{"domain":[-200,200]},"title":null,"axis":null}}}]},
{"title":"T4, Trot","width":36,"height":205,"data":{"name":"curves"},"encoding":{"x":{"field":"x","type":"quantitative","scale":{"domain":[0,100]},"title":"% Of stance","axis":{"values":[0,10,20,30,40,50,60,70,80,90,100],"labelExpr":"datum.value%50==0?datum.label:''"}}},"resolve":{"axis":{"y":"independent"}},"layer":[
{"transform":[{"filter":"datum.g=='B'&&datum.t=='T4'"}],"mark":{"type":"area","color":"#ff0000","fillOpacity":0.16,"stroke":"#ff0000","strokeOpacity":0.25,"strokeWidth":0.5,"clip":true},"encoding":{"y":{"field":"lo","type":"quantitative","scale":{"domain":[-200,200]},"title":null,"axis":{"orient":"left","values":[-200,-190,-180,-170,-160,-150,-140,-130,-120,-110,-100,-90,-80,-70,-60,-50,-40,-30,-20,-10,0,10,20,30,40,50,60,70,80,90,100,110,120,130,140,150,160,170,180,190,200],"labelExpr":"datum.value%50==0?datum.label:''","gridColor":{"condition":{"test":"datum.value===0","value":"#f050f0"},"value":"#e8e8e8"},"gridWidth":{"condition":{"test":"datum.value===0","value":1},"value":0.6}}},"y2":{"field":"hi"}}},
{"transform":[{"filter":"datum.g=='B'&&datum.t=='T4'"}],"mark":{"type":"line","color":"#e03c3c","strokeWidth":0.9,"clip":true},"encoding":{"y":{"field":"m","type":"quantitative","scale":{"domain":[-200,200]},"title":null,"axis":null}}},
{"data":{"name":"stars"},"transform":[{"filter":"datum.g=='B'&&datum.t=='T4'"}],"mark":{"type":"text","text":"*","fontSize":8,"color":"#333","baseline":"middle","dy":2},"encoding":{"y":{"field":"y","type":"quantitative","scale":{"domain":[-200,200]},"title":null,"axis":null}}}]},
{"title":"T6, Trot","width":36,"height":205,"data":{"name":"curves"},"encoding":{"x":{"field":"x","type":"quantitative","scale":{"domain":[0,100]},"title":"% Of stance","axis":{"values":[0,10,20,30,40,50,60,70,80,90,100],"labelExpr":"datum.value%50==0?datum.label:''"}}},"resolve":{"axis":{"y":"independent"}},"layer":[
{"transform":[{"filter":"datum.g=='B'&&datum.t=='T6'"}],"mark":{"type":"area","color":"#ff0000","fillOpacity":0.16,"stroke":"#ff0000","strokeOpacity":0.25,"strokeWidth":0.5,"clip":true},"encoding":{"y":{"field":"lo","type":"quantitative","scale":{"domain":[-200,200]},"title":null,"axis":{"orient":"left","values":[-200,-190,-180,-170,-160,-150,-140,-130,-120,-110,-100,-90,-80,-70,-60,-50,-40,-30,-20,-10,0,10,20,30,40,50,60,70,80,90,100,110,120,130,140,150,160,170,180,190,200],"labelExpr":"datum.value%50==0?datum.label:''","gridColor":{"condition":{"test":"datum.value===0","value":"#f050f0"},"value":"#e8e8e8"},"gridWidth":{"condition":{"test":"datum.value===0","value":1},"value":0.6}}},"y2":{"field":"hi"}}},
{"transform":[{"filter":"datum.g=='B'&&datum.t=='T6'"}],"mark":{"type":"line","color":"#e03c3c","strokeWidth":0.9,"clip":true},"encoding":{"y":{"field":"m","type":"quantitative","scale":{"domain":[-200,200]},"title":null,"axis":null}}},
{"data":{"name":"stars"},"transform":[{"filter":"datum.g=='B'&&datum.t=='T6'"}],"mark":{"type":"text","text":"*","fontSize":8,"color":"#333","baseline":"middle","dy":2},"encoding":{"y":{"field":"y","type":"quantitative","scale":{"domain":[-200,200]},"title":null,"axis":null}}}]},
{"title":"T8, Trot","width":36,"height":205,"data":{"name":"curves"},"encoding":{"x":{"field":"x","type":"quantitative","scale":{"domain":[0,100]},"title":"% Of stance","axis":{"values":[0,10,20,30,40,50,60,70,80,90,100],"labelExpr":"datum.value%50==0?datum.label:''"}}},"resolve":{"axis":{"y":"independent"}},"layer":[
{"transform":[{"filter":"datum.g=='B'&&datum.t=='T8'"}],"mark":{"type":"area","color":"#ff0000","fillOpacity":0.16,"stroke":"#ff0000","strokeOpacity":0.25,"strokeWidth":0.5,"clip":true},"encoding":{"y":{"field":"lo","type":"quantitative","scale":{"domain":[-200,200]},"title":null,"axis":{"orient":"left","values":[-200,-190,-180,-170,-160,-150,-140,-130,-120,-110,-100,-90,-80,-70,-60,-50,-40,-30,-20,-10,0,10,20,30,40,50,60,70,80,90,100,110,120,130,140,150,160,170,180,190,200],"labelExpr":"datum.value%50==0?datum.label:''","gridColor":{"condition":{"test":"datum.value===0","value":"#f050f0"},"value":"#e8e8e8"},"gridWidth":{"condition":{"test":"datum.value===0","value":1},"value":0.6}}},"y2":{"field":"hi"}}},
{"transform":[{"filter":"datum.g=='B'&&datum.t=='T8'"}],"mark":{"type":"line","color":"#e03c3c","strokeWidth":0.9,"clip":true},"encoding":{"y":{"field":"m","type":"quantitative","scale":{"domain":[-200,200]},"title":null,"axis":null}}},
{"data":{"name":"stars"},"transform":[{"filter":"datum.g=='B'&&datum.t=='T8'"}],"mark":{"type":"text","text":"*","fontSize":8,"color":"#333","baseline":"middle","dy":2},"encoding":{"y":{"field":"y","type":"quantitative","scale":{"domain":[-200,200]},"title":null,"axis":null}}}]},
{"title":"T10, Trot","width":36,"height":205,"data":{"name":"curves"},"encoding":{"x":{"field":"x","type":"quantitative","scale":{"domain":[0,100]},"title":"% Of stance","axis":{"values":[0,10,20,30,40,50,60,70,80,90,100],"labelExpr":"datum.value%50==0?datum.label:''"}}},"resolve":{"axis":{"y":"independent"}},"layer":[
{"transform":[{"filter":"datum.g=='B'&&datum.t=='T10'"}],"mark":{"type":"area","color":"#ff0000","fillOpacity":0.16,"stroke":"#ff0000","strokeOpacity":0.25,"strokeWidth":0.5,"clip":true},"encoding":{"y":{"field":"lo","type":"quantitative","scale":{"domain":[-200,200]},"title":null,"axis":{"orient":"left","values":[-200,-190,-180,-170,-160,-150,-140,-130,-120,-110,-100,-90,-80,-70,-60,-50,-40,-30,-20,-10,0,10,20,30,40,50,60,70,80,90,100,110,120,130,140,150,160,170,180,190,200],"labelExpr":"datum.value%50==0?datum.label:''","gridColor":{"condition":{"test":"datum.value===0","value":"#f050f0"},"value":"#e8e8e8"},"gridWidth":{"condition":{"test":"datum.value===0","value":1},"value":0.6}}},"y2":{"field":"hi"}}},
{"transform":[{"filter":"datum.g=='B'&&datum.t=='T10'"}],"mark":{"type":"line","color":"#e03c3c","strokeWidth":0.9,"clip":true},"encoding":{"y":{"field":"m","type":"quantitative","scale":{"domain":[-200,200]},"title":null,"axis":null}}},
{"data":{"name":"stars"},"transform":[{"filter":"datum.g=='B'&&datum.t=='T10'"}],"mark":{"type":"text","text":"*","fontSize":8,"color":"#333","baseline":"middle","dy":2},"encoding":{"y":{"field":"y","type":"quantitative","scale":{"domain":[-200,200]},"title":null,"axis":null}}}]},
{"title":"T12, Trot","width":36,"height":205,"data":{"name":"curves"},"encoding":{"x":{"field":"x","type":"quantitative","scale":{"domain":[0,100]},"title":"% Of stance","axis":{"values":[0,10,20,30,40,50,60,70,80,90,100],"labelExpr":"datum.value%50==0?datum.label:''"}}},"resolve":{"axis":{"y":"independent"}},"layer":[
{"transform":[{"filter":"datum.g=='B'&&datum.t=='T12'"}],"mark":{"type":"area","color":"#ff0000","fillOpacity":0.16,"stroke":"#ff0000","strokeOpacity":0.25,"strokeWidth":0.5,"clip":true},"encoding":{"y":{"field":"lo","type":"quantitative","scale":{"domain":[-200,200]},"title":null,"axis":{"orient":"left","values":[-200,-190,-180,-170,-160,-150,-140,-130,-120,-110,-100,-90,-80,-70,-60,-50,-40,-30,-20,-10,0,10,20,30,40,50,60,70,80,90,100,110,120,130,140,150,160,170,180,190,200],"labelExpr":"datum.value%50==0?datum.label:''","gridColor":{"condition":{"test":"datum.value===0","value":"#f050f0"},"value":"#e8e8e8"},"gridWidth":{"condition":{"test":"datum.value===0","value":1},"value":0.6}}},"y2":{"field":"hi"}}},
{"transform":[{"filter":"datum.g=='B'&&datum.t=='T12'"}],"mark":{"type":"line","color":"#e03c3c","strokeWidth":0.9,"clip":true},"encoding":{"y":{"field":"m","type":"quantitative","scale":{"domain":[-200,200]},"title":null,"axis":null}}},
{"data":{"name":"stars"},"transform":[{"filter":"datum.g=='B'&&datum.t=='T12'"}],"mark":{"type":"text","text":"*","fontSize":8,"color":"#333","baseline":"middle","dy":2},"encoding":{"y":{"field":"y","type":"quantitative","scale":{"domain":[-200,200]},"title":null,"axis":null}}}]},
{"title":"T16, Trot","width":36,"height":205,"data":{"name":"curves"},"encoding":{"x":{"field":"x","type":"quantitative","scale":{"domain":[0,100]},"title":"% Of stance","axis":{"values":[0,10,20,30,40,50,60,70,80,90,100],"labelExpr":"datum.value%50==0?datum.label:''"}}},"resolve":{"axis":{"y":"independent"}},"layer":[
{"transform":[{"filter":"datum.g=='B'&&datum.t=='T16'"}],"mark":{"type":"area","color":"#ff0000","fillOpacity":0.16,"stroke":"#ff0000","strokeOpacity":0.25,"strokeWidth":0.5,"clip":true},"encoding":{"y":{"field":"lo","type":"quantitative","scale":{"domain":[-200,200]},"title":null,"axis":{"orient":"left","values":[-200,-190,-180,-170,-160,-150,-140,-130,-120,-110,-100,-90,-80,-70,-60,-50,-40,-30,-20,-10,0,10,20,30,40,50,60,70,80,90,100,110,120,130,140,150,160,170,180,190,200],"labelExpr":"datum.value%50==0?datum.label:''","gridColor":{"condition":{"test":"datum.value===0","value":"#f050f0"},"value":"#e8e8e8"},"gridWidth":{"condition":{"test":"datum.value===0","value":1},"value":0.6}}},"y2":{"field":"hi"}}},
{"transform":[{"filter":"datum.g=='B'&&datum.t=='T16'"}],"mark":{"type":"line","color":"#e03c3c","strokeWidth":0.9,"clip":true},"encoding":{"y":{"field":"m","type":"quantitative","scale":{"domain":[-200,200]},"title":null,"axis":null}}},
{"data":{"name":"stars"},"transform":[{"filter":"datum.g=='B'&&datum.t=='T16'"}],"mark":{"type":"text","text":"*","fontSize":8,"color":"#333","baseline":"middle","dy":2},"encoding":{"y":{"field":"y","type":"quantitative","scale":{"domain":[-200,200]},"title":null,"axis":null}}}]},
{"title":"T20, Trot","width":36,"height":205,"data":{"name":"curves"},"encoding":{"x":{"field":"x","type":"quantitative","scale":{"domain":[0,100]},"title":"% Of stance","axis":{"values":[0,10,20,30,40,50,60,70,80,90,100],"labelExpr":"datum.value%50==0?datum.label:''"}}},"resolve":{"axis":{"y":"independent"}},"layer":[
{"transform":[{"filter":"datum.g=='B'&&datum.t=='T20'"}],"mark":{"type":"area","color":"#ff0000","fillOpacity":0.16,"stroke":"#ff0000","strokeOpacity":0.25,"strokeWidth":0.5,"clip":true},"encoding":{"y":{"field":"lo","type":"quantitative","scale":{"domain":[-200,200]},"title":null,"axis":{"orient":"left","values":[-200,-190,-180,-170,-160,-150,-140,-130,-120,-110,-100,-90,-80,-70,-60,-50,-40,-30,-20,-10,0,10,20,30,40,50,60,70,80,90,100,110,120,130,140,150,160,170,180,190,200],"labelExpr":"datum.value%50==0?datum.label:''","gridColor":{"condition":{"test":"datum.value===0","value":"#f050f0"},"value":"#e8e8e8"},"gridWidth":{"condition":{"test":"datum.value===0","value":1},"value":0.6}}},"y2":{"field":"hi"}}},
{"transform":[{"filter":"datum.g=='B'&&datum.t=='T20'"}],"mark":{"type":"line","color":"#e03c3c","strokeWidth":0.9,"clip":true},"encoding":{"y":{"field":"m","type":"quantitative","scale":{"domain":[-200,200]},"title":null,"axis":null}}},
{"data":{"name":"stars"},"transform":[{"filter":"datum.g=='B'&&datum.t=='T20'"}],"mark":{"type":"text","text":"*","fontSize":8,"color":"#333","baseline":"middle","dy":2},"encoding":{"y":{"field":"y","type":"quantitative","scale":{"domain":[-200,200]},"title":null,"axis":null}}}]},
{"title":"T24, Trot","width":36,"height":205,"data":{"name":"curves"},"encoding":{"x":{"field":"x","type":"quantitative","scale":{"domain":[0,100]},"title":"% Of stance","axis":{"values":[0,10,20,30,40,50,60,70,80,90,100],"labelExpr":"datum.value%50==0?datum.label:''"}}},"resolve":{"axis":{"y":"independent"}},"layer":[
{"transform":[{"filter":"datum.g=='B'&&datum.t=='T24'"}],"mark":{"type":"area","color":"#ff0000","fillOpacity":0.16,"stroke":"#ff0000","strokeOpacity":0.25,"strokeWidth":0.5,"clip":true},"encoding":{"y":{"field":"lo","type":"quantitative","scale":{"domain":[-200,200]},"title":null,"axis":{"orient":"left","values":[-200,-190,-180,-170,-160,-150,-140,-130,-120,-110,-100,-90,-80,-70,-60,-50,-40,-30,-20,-10,0,10,20,30,40,50,60,70,80,90,100,110,120,130,140,150,160,170,180,190,200],"labelExpr":"datum.value%50==0?datum.label:''","gridColor":{"condition":{"test":"datum.value===0","value":"#f050f0"},"value":"#e8e8e8"},"gridWidth":{"condition":{"test":"datum.value===0","value":1},"value":0.6}}},"y2":{"field":"hi"}}},
{"transform":[{"filter":"datum.g=='B'&&datum.t=='T24'"}],"mark":{"type":"line","color":"#e03c3c","strokeWidth":0.9,"clip":true},"encoding":{"y":{"field":"m","type":"quantitative","scale":{"domain":[-200,200]},"title":null,"axis":null}}},
{"data":{"name":"stars"},"transform":[{"filter":"datum.g=='B'&&datum.t=='T24'"}],"mark":{"type":"text","text":"*","fontSize":8,"color":"#333","baseline":"middle","dy":2},"encoding":{"y":{"field":"y","type":"quantitative","scale":{"domain":[-200,200]},"title":null,"axis":null}}}]}
],"spacing":43.25,"bounds":"flush"}
],"spacing":28,
"config":{"view":{"stroke":null},"font":"Noto Sans","axis":{"labelFontSize":5,"labelColor":"#444","ticks":false,"tickSize":0,"labelPadding":3,"labelFlush":false,"labelOverlap":false,"gridColor":"#e8e8e8","gridWidth":0.6,"domainColor":"#999","domainWidth":0.8,"titleFontSize":5,"titleFontWeight":"normal","titleColor":"#333","titlePadding":8},"title":{"fontSize":5.5,"fontWeight":"normal","color":"#333","offset":2}}}
